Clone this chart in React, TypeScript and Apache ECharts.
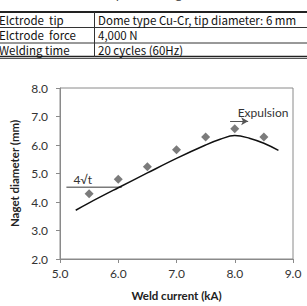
import React, { useEffect, useRef } from "react";
import * as echarts from "echarts";

const xMeasured = [5.5, 6.0, 6.5, 7.0, 7.5, 8.0, 8.5];
const yMeasured = [4.29, 4.8, 5.24, 5.83, 6.28, 6.57, 6.28];
const curveX = [5.27, 5.5, 6.0, 6.5, 7.0, 7.5, 7.75, 8.0, 8.25, 8.5, 8.75];
const curveY = [3.71, 3.97, 4.5, 5.02, 5.53, 6.0, 6.2, 6.33, 6.24, 6.06, 5.81];
const limitX = [5.11, 6.06];
const limitY = 4.52;
const limitLabel = "4√t";
const expulsionLabel = "Expulsion";
const expulsionArrowX = [7.92, 8.23];
const expulsionArrowY = 6.83;
const expulsionTextPos = [8.05, 7.13];

const tableTitle = "Table 1  Spot welding conditions";
const tableRows = [
  ["Elctrode  tip", "Dome type Cu-Cr, tip diameter: 6 mm"],
  ["Elctrode  force", "4,000 N"],
  ["Welding time", "20 cycles (60Hz)"],
];

const xTicks = { min: 5, max: 9, interval: 1 };
const yTicks = { min: 2, max: 8, interval: 1 };

export default function App() {
  const ref = useRef<HTMLDivElement>(null);
  useEffect(() => {
    document.body.style.margin = "0";
    const chart = echarts.init(ref.current!, null, { renderer: "svg" });
    const font = "Lato, 'Noto Sans', sans-serif";
    chart.setOption({
      animation: false,
      backgroundColor: "#fff",
      grid: { left: 60, right: 14, top: 88, bottom: 38, show: true, borderColor: "#8a8a8a", borderWidth: 1 },
      xAxis: {
        type: "value",
        min: xTicks.min,
        max: xTicks.max,
        interval: xTicks.interval,
        name: "Weld current (kA)",
        nameLocation: "middle",
        nameGap: 30,
        nameTextStyle: { fontFamily: font, fontSize: 11.5, fontWeight: "bold", color: "#222" },
        axisLine: { lineStyle: { color: "#8a8a8a", width: 1 } },
        axisTick: { show: true, length: 4, inside: false, lineStyle: { color: "#8a8a8a" } },
        axisLabel: { formatter: (v: number) => v.toFixed(1), fontFamily: font, fontSize: 12, color: "#333", margin: 8 },
        splitLine: { show: false },
      },
      yAxis: {
        type: "value",
        min: yTicks.min,
        max: yTicks.max,
        interval: yTicks.interval,
        name: "Naget diameter (mm)",
        nameLocation: "middle",
        nameGap: 37,
        nameTextStyle: { fontFamily: font, fontSize: 11.5, fontWeight: "bold", color: "#222" },
        axisLine: { show: true, lineStyle: { color: "#8a8a8a", width: 1 } },
        axisTick: { show: true, length: 4, inside: false, lineStyle: { color: "#8a8a8a" } },
        axisLabel: { formatter: (v: number) => v.toFixed(1), fontFamily: font, fontSize: 12, color: "#333", margin: 12 },
        splitLine: { show: false },
      },
      series: [
        {
          type: "line",
          data: curveX.map((x, i) => [x, curveY[i]]),
          smooth: 0.4,
          showSymbol: false,
          lineStyle: { color: "#111", width: 1.5 },
          z: 2,
        },
        {
          type: "line",
          data: limitX.map((x) => [x, limitY]),
          showSymbol: false,
          lineStyle: { color: "#7a7a7a", width: 1.6 },
          z: 1,
          markLine: {
            silent: true,
            symbol: ["none", "arrow"],
            symbolSize: [6, 7],
            label: { show: false },
            lineStyle: { color: "#555", width: 1, type: "solid" },
            data: [[{ coord: [expulsionArrowX[0], expulsionArrowY] }, { coord: [expulsionArrowX[1], expulsionArrowY] }]],
          },
        },
        {
          type: "scatter",
          data: xMeasured.map((x, i) => [x, yMeasured[i]]),
          symbol: "diamond",
          symbolSize: 9,
          itemStyle: { color: "#5a5a5a" },
          z: 3,
        },
      ],
    });
    const p1 = chart.convertToPixel({ gridIndex: 0 }, [limitX[0], limitY]) as number[];
    const p2 = chart.convertToPixel({ gridIndex: 0 }, expulsionTextPos) as number[];
    const tFont = "'Noto Sans CJK JP', sans-serif";
    const graphics: any[] = [
      { type: "text", left: "center", top: -14, style: { text: tableTitle, font: `12px ${tFont}`, fill: "#444" } },
      { type: "line", shape: { x1: 0, y1: 12, x2: 307, y2: 12 }, style: { stroke: "#222", lineWidth: 2 } },
      { type: "line", shape: { x1: 0, y1: 27.5, x2: 307, y2: 27.5 }, style: { stroke: "#333", lineWidth: 1 } },
      { type: "line", shape: { x1: 0, y1: 43, x2: 307, y2: 43 }, style: { stroke: "#333", lineWidth: 1 } },
      { type: "line", shape: { x1: 0, y1: 56.5, x2: 307, y2: 56.5 }, style: { stroke: "#222", lineWidth: 1.5 } },
      { type: "line", shape: { x1: 0, y1: 58.5, x2: 307, y2: 58.5 }, style: { stroke: "#555", lineWidth: 1 } },
      { type: "line", shape: { x1: 94.5, y1: 12, x2: 94.5, y2: 57 }, style: { stroke: "#333", lineWidth: 1 } },
      { type: "text", x: p1[0] + 7, y: p1[1] - 8, style: { text: limitLabel, font: `12px ${font}`, fill: "#333", verticalAlign: "middle" } },
      { type: "text", x: p2[0], y: p2[1], style: { text: expulsionLabel, font: `12px ${font}`, fill: "#333", verticalAlign: "middle" } },
    ];
    const rowY = [19.5, 35, 50];
    tableRows.forEach((r, i) => {
      graphics.push({ type: "text", x: -1, y: rowY[i], style: { text: r[0], font: `11.5px ${tFont}`, fill: "#111", verticalAlign: "middle", lineHeight: 13 } });
      graphics.push({ type: "text", x: 98, y: rowY[i], style: { text: r[1], font: `11.5px ${tFont}`, fill: "#111", verticalAlign: "middle", lineHeight: 13 } });
    });
    chart.setOption({ graphic: graphics });
    return () => chart.dispose();
  }, []);
  return <div ref={ref} style={{ width: 307, height: 306 }} />;
}
